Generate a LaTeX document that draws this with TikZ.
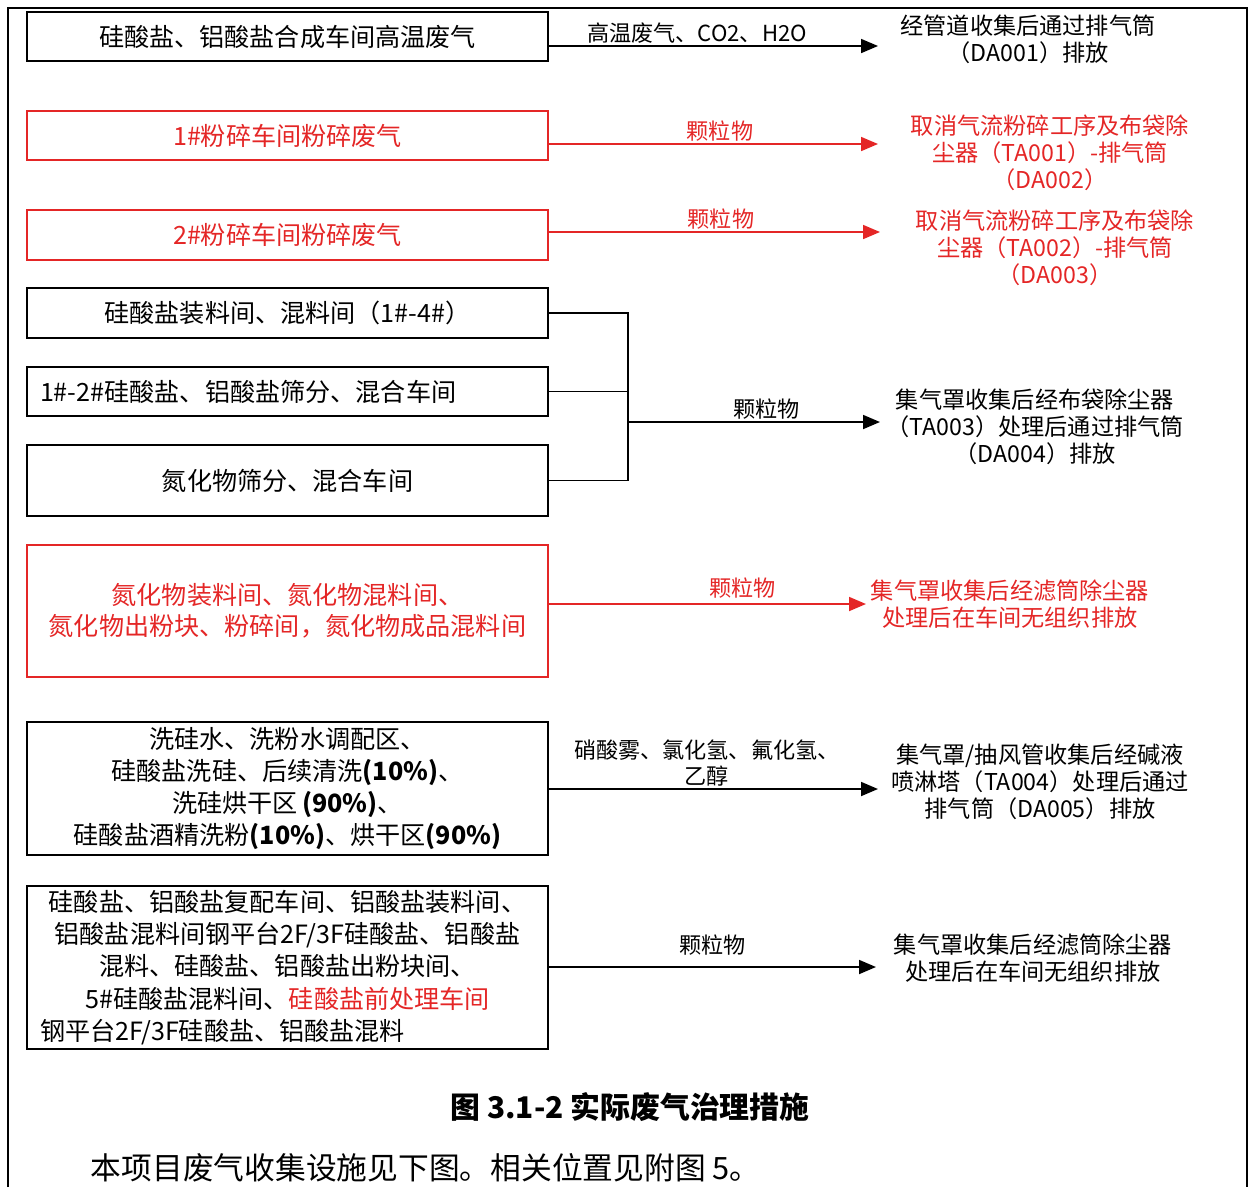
\documentclass[tikz,border=0pt]{standalone}
\usepackage{fontspec}
\setmainfont{Noto Sans CJK SC}
\usetikzlibrary{positioning,arrows.meta}

\definecolor{wred}{RGB}{228,38,38}

\newcommand{\boxfont}{\fontsize{14.3}{17.6}\selectfont}
\newcommand{\tallfont}{\fontsize{14.3}{18.3}\selectfont}
\newcommand{\outfont}{\fontsize{13.2}{15.4}\selectfont}
\newcommand{\lblfont}{\fontsize{12.6}{14.8}\selectfont}

\begin{document}
\begin{tikzpicture}[
      x=0.02cm, y=-0.02cm,
      line width=1pt,
      box/.style={draw, minimum width=10.42cm, inner sep=0pt, align=center, font=\boxfont},
      redbox/.style={box, wred, text=wred},
      note/.style={align=center, font=\outfont},
      arr/.style={-{Triangle[length=0.34cm,width=0.28cm]}},
      lbl/.style={above=1pt, inner sep=0pt, align=center, font=\lblfont}]

    % page frame
    \useasboundingbox (0,0) rectangle (1250,1187);
    \draw[line width=1.3pt] (8,1187) -- (8,8) -- (1247,8) -- (1247,1187);

    % sources (left column)
    \node (b1) at (287.5,36.5) [box, minimum height=0.98cm] {硅酸盐、铝酸盐合成车间高温废气};
    \node (b2) at (287.5,135.5) [redbox, minimum height=0.98cm] {1\#粉碎车间粉碎废气};
    \node (b3) at (287.5,235) [redbox, minimum height=1cm] {2\#粉碎车间粉碎废气};
    \node (b4) at (287.5,313) [box, minimum height=1cm] {硅酸盐装料间、混料间（1\#-4\#）};
    \node (b5) at (287.5,391.5) [box, minimum height=0.98cm, text width=9.9cm, inner xsep=0.26cm, align=left] {1\#-2\#硅酸盐、铝酸盐筛分、混合车间};
    \node (b6) at (287.5,480.5) [box, minimum height=1.42cm] {氮化物筛分、混合车间};
    \node (b7) at (287.5,611) [redbox, minimum height=2.64cm, font=\boxfont] {氮化物装料间、氮化物混料间、\\氮化物出粉块、粉碎间，氮化物成品混料间};
    \node (b8) at (287.5,788.5) [box, minimum height=2.66cm, font=\tallfont] {洗硅水、洗粉水调配区、\\硅酸盐洗硅、后续清洗\textbf{(10\%)}、\\洗硅烘干区\,\textbf{(90\%)}、\\硅酸盐酒精洗粉\textbf{(10\%)}、烘干区\textbf{(90\%)}};
    \node (b9) at (287.5,967.5) [box, minimum height=3.26cm, text width=9.9cm, inner xsep=0.26cm, font=\tallfont] {硅酸盐、铝酸盐复配车间、铝酸盐装料间、\\铝酸盐混料间钢平台2F/3F硅酸盐、铝酸盐\\混料、硅酸盐、铝酸盐出粉块间、\\5\#硅酸盐混料间、{\color{wred}硅酸盐前处理车间}\\\makebox[9.9cm][l]{钢平台2F/3F硅酸盐、铝酸盐混料}};

    % treatment (right column)
    \node (o1) at (1028,39) [note] {经管道收集后通过排气筒\\（DA001）排放};
    \node (o2) at (1050,153) [note, text=wred] {取消气流粉碎工序及布袋除\\尘器（TA001）-排气筒\\（DA002）};
    \node (o3) at (1055,248) [note, text=wred] {取消气流粉碎工序及布袋除\\尘器（TA002）-排气筒\\（DA003）};
    \node (o4) at (1035,427) [note] {集气罩收集后经布袋除尘器\\（TA003）处理后通过排气筒\\（DA004）排放};
    \node (o5) at (1010,604) [note, text=wred] {集气罩收集后经滤筒除尘器\\处理后在车间无组织排放};
    \node (o6) at (1040,782) [note] {集气罩/抽风管收集后经碱液\\喷淋塔（TA004）处理后通过\\排气筒（DA005）排放};
    \node (o7) at (1033,958) [note] {集气罩收集后经滤筒除尘器\\处理后在车间无组织排放};

    % arrow tips
    \coordinate (t1) at (878,46);
    \coordinate (t2) at (878,144);
    \coordinate (t3) at (880,232);
    \coordinate (t4) at (880,422);
    \coordinate (t5) at (866,604);
    \coordinate (t6) at (878,789);
    \coordinate (t7) at (876,967);
    \coordinate (bus) at (628,0);

    % wiring
    \draw[arr] (b1.east |- t1) -- (t1) node[lbl, pos=.45] {高温废气、CO2、H2O};
    \draw[arr, wred] (b2.east |- t2) -- (t2) node[lbl, pos=.52, text=wred] {颗粒物};
    \draw[arr, wred] (b3.east |- t3) -- (t3) node[lbl, pos=.52, text=wred] {颗粒物};

    % bracket (1#-4#, sieving, nitride)
    \draw (b4.east) -- (b4.east -| bus) -- (b6.east -| bus) -- (b6.east);
    \draw (b5.east) -- (b5.east -| bus);
    \draw[arr] (bus |- t4) -- (t4) node[lbl, pos=.55] {颗粒物};

    \draw[arr, wred] (b7.east |- t5) -- (t5) node[lbl, pos=.61, yshift=2pt, text=wred] {颗粒物};
    \draw[arr] (b8.east |- t6) -- (t6) node[lbl, pos=.48] {硝酸雾、氯化氢、氟化氢、\\乙醇};
    \draw[arr] (b9.east |- t7) -- (t7) node[lbl, pos=.5, yshift=5pt] {颗粒物};

    % caption & text
    \node (cap) at (630,1107) [font=\fontsize{17}{20}\selectfont\bfseries] {图 3.1-2 实际废气治理措施};
    \node (txt) at (90,1168) [anchor=west, inner sep=0pt, font=\fontsize{17.5}{20}\selectfont] {本项目废气收集设施见下图。相关位置见附图 5。};

  \end{tikzpicture}
\end{document}
